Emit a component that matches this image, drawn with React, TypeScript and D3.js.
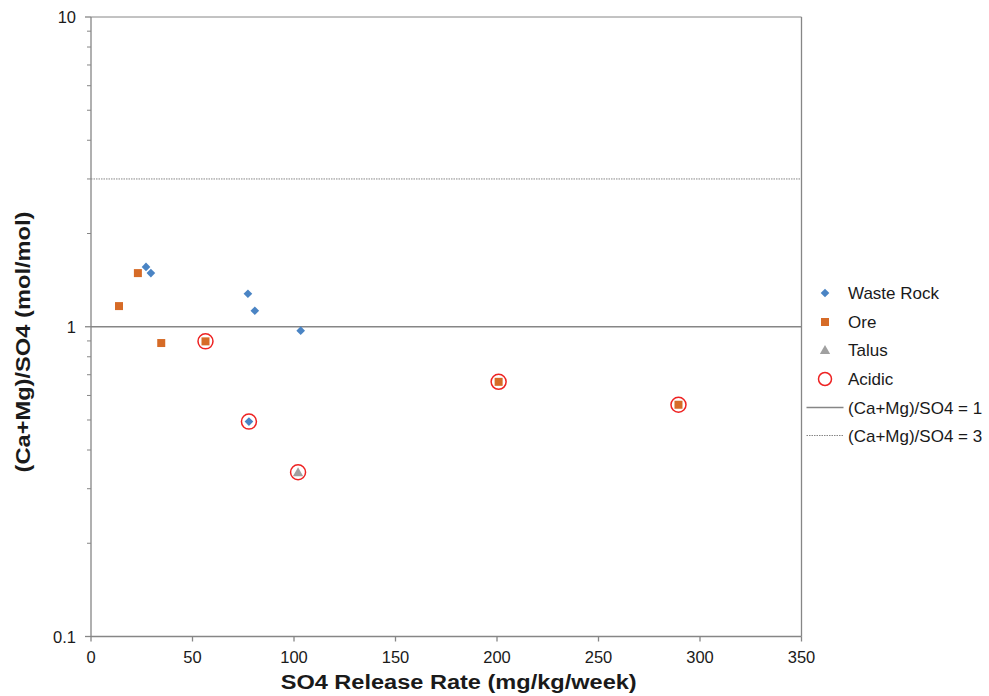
import React from "react";
import * as d3 from "d3";

const wasteRockX = [27.1, 29.5, 77.3, 80.7, 103.3, 77.8];
const wasteRockY = [1.56, 1.49, 1.278, 1.126, 0.971, 0.494];
const oreX = [23.1, 13.8, 34.6, 56.4, 200.8, 289.4];
const oreY = [1.49, 1.166, 0.886, 0.897, 0.664, 0.56];
const talusX = [102.0];
const talusY = [0.339];
const acidicX = [56.4, 77.8, 102.0, 200.8, 289.4];
const acidicY = [0.897, 0.494, 0.339, 0.664, 0.56];
const refLines = [1, 3];
const xTicks = [0, 50, 100, 150, 200, 250, 300, 350];
const yTicks = [0.1, 1, 10];
const yTickLabels = ["0.1", "1", "10"];
const legendLabels = ["Waste Rock", "Ore", "Talus", "Acidic", "(Ca+Mg)/SO4 = 1", "(Ca+Mg)/SO4 = 3"];

const W = 989, H = 696;
const L = 91, R = 801.5, T = 17, B = 636.5;
const AX = "#868686";
const BLUE = "#4A84C4";
const ORANGE = "#D66B27";
const GRAY = "#A0A0A0";
const FONT = "'Liberation Sans', Arial, sans-serif";

export default function App() {
  const x = d3.scaleLinear().domain([0, 350]).range([L, R]);
  const y = d3.scaleLog().domain([0.1, 10]).range([B, T]);
  const minor: number[] = [];
  [0.1, 1].forEach((d) => {
    for (let k = 2; k <= 9; k++) minor.push(d * k);
  });
  const diamond = d3.symbol().type(d3.symbolDiamond2 as any).size(48)();
  const square = d3.symbol().type(d3.symbolSquare).size(64)();
  const tri = d3.symbol().type(d3.symbolTriangle).size(46)();
  const legY = [293, 322, 350, 379, 407.5, 435.5];

  return (
    <svg width={W} height={H} style={{ position: "absolute", left: 0, top: 0, background: "#fff" }} fontFamily={FONT}>
      <rect x={0} y={0} width={W} height={H} fill="#fff" />
      {/* plot border */}
      <line x1={L} x2={R} y1={T} y2={T} stroke={AX} strokeWidth={1} />
      <line x1={R} x2={R} y1={T} y2={B} stroke={AX} strokeWidth={1.3} />
      {/* reference lines */}
      <line x1={L} x2={R} y1={y(refLines[0])} y2={y(refLines[0])} stroke={AX} strokeWidth={1.3} />
      <line x1={L} x2={R} y1={y(refLines[1])} y2={y(refLines[1])} stroke={AX} strokeWidth={1} strokeDasharray="1.5,1" />
      {/* axes */}
      <line x1={L} x2={L} y1={T} y2={B} stroke={AX} strokeWidth={1.3} />
      <line x1={L} x2={R} y1={B} y2={B} stroke={AX} strokeWidth={1.3} />
      {yTicks.map((t) => (
        <line key={"yt" + t} x1={L - 6} x2={L} y1={y(t)} y2={y(t)} stroke={AX} strokeWidth={1.3} />
      ))}
      {minor.map((t) => (
        <line key={"ym" + t} x1={L - 4} x2={L} y1={y(t)} y2={y(t)} stroke={AX} strokeWidth={1} />
      ))}
      {xTicks.map((t) => (
        <line key={"xt" + t} x1={x(t)} x2={x(t)} y1={B} y2={B + 5} stroke={AX} strokeWidth={1.3} />
      ))}
      {xTicks.map((t) => (
        <text key={"xl" + t} x={x(t)} y={663} textAnchor="middle" fontSize={16.5} fill="#1a1a1a">{t}</text>
      ))}
      {yTicks.map((t, i) => (
        <text key={"yl" + t} x={76} y={y(t) + 6} textAnchor="end" fontSize={16.5} fill="#1a1a1a">{yTickLabels[i]}</text>
      ))}
      {/* titles */}
      <text x={458.7} y={689} textAnchor="middle" fontSize={20} fontWeight="bold" fill="#1a1a1a"
        textLength={356} lengthAdjust="spacingAndGlyphs">SO4 Release Rate (mg/kg/week)</text>
      <text transform={`translate(30,342) rotate(-90)`} textAnchor="middle" fontSize={20} fontWeight="bold" fill="#1a1a1a"
        textLength={261} lengthAdjust="spacingAndGlyphs">(Ca+Mg)/SO4 (mol/mol)</text>
      {/* data */}
      {wasteRockX.map((v, i) => (
        <path key={"w" + i} d={diamond!} transform={`translate(${x(v)},${y(wasteRockY[i])})`} fill={BLUE} />
      ))}
      {oreX.map((v, i) => (
        <path key={"o" + i} d={square!} transform={`translate(${x(v)},${y(oreY[i])})`} fill={ORANGE} />
      ))}
      {talusX.map((v, i) => (
        <path key={"t" + i} d={tri!} transform={`translate(${x(v)},${y(talusY[i]) + 1})`} fill={GRAY} />
      ))}
      {acidicX.map((v, i) => (
        <circle key={"a" + i} cx={x(v)} cy={y(acidicY[i])} r={7.5} fill="none" stroke="#EE2222" strokeWidth={1.5} />
      ))}
      {/* legend */}
      <path d={diamond!} transform={`translate(825,${legY[0]})`} fill={BLUE} />
      <path d={square!} transform={`translate(825,${legY[1]})`} fill={ORANGE} />
      <path d={tri!} transform={`translate(825,${legY[2] + 1})`} fill={GRAY} />
      <circle cx={825} cy={legY[3]} r={6.5} fill="none" stroke="#EE2222" strokeWidth={1.5} />
      <line x1={806.5} x2={843.5} y1={legY[4]} y2={legY[4]} stroke={AX} strokeWidth={1.3} />
      <line x1={806.5} x2={843.5} y1={legY[5]} y2={legY[5]} stroke={AX} strokeWidth={1} strokeDasharray="1.5,1" />
      {legendLabels.map((s, i) => (
        <text key={"lg" + i} x={848} y={legY[i] + 6} fontSize={17} fill="#1a1a1a">{s}</text>
      ))}
    </svg>
  );
}
